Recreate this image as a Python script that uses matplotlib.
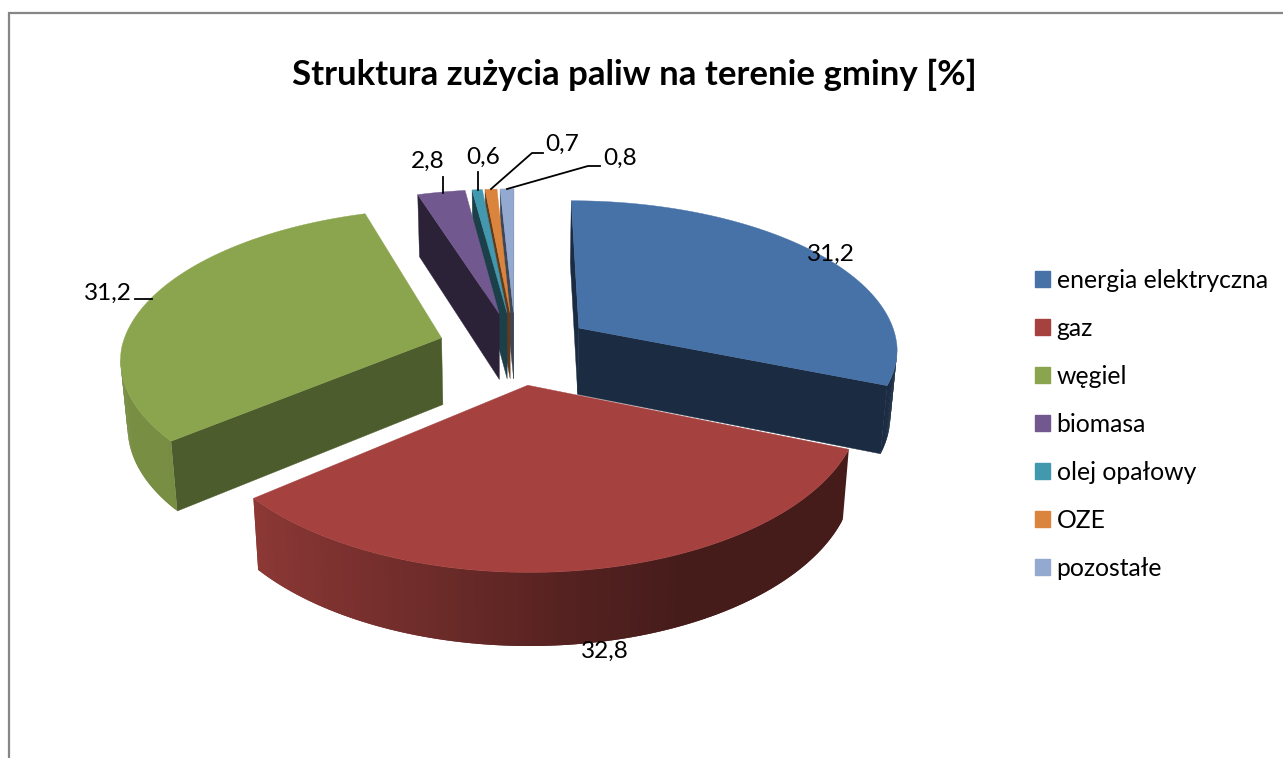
import numpy as np
import matplotlib
matplotlib.use("Agg")
import matplotlib.pyplot as plt
from matplotlib.patches import Polygon, Patch

title = "Struktura zużycia paliw na terenie gminy [%]"
categories = ["energia elektryczna", "gaz", "węgiel", "biomasa", "olej opałowy", "OZE", "pozostałe"]
values = [31.2, 32.8, 31.2, 2.8, 0.6, 0.7, 0.8]
value_labels = ["31,2", "32,8", "31,2", "2,8", "0,6", "0,7", "0,8"]
colors = ["#4672A8", "#A5423F", "#8AA54E", "#71588F", "#4198AF", "#DB843D", "#93A9CF"]
wall_dim = [0.39, 0.42, 0.56, 0.39, 0.42, 0.45, 0.42]

# Pie projection parameters (pixels)
CX, CY = 515.5, 348.0
RX, RY = 320.0, 150.0
PERSP = 0.138
EXPLODE = 0.243
HEIGHT = 67.0
BOTTOM_SHRINK = 0.982

plt.rcParams["font.family"] = ["Lato", "DejaVu Sans"]
fig = plt.figure(figsize=(12.83, 7.58), dpi=100, facecolor="white")
ax = fig.add_axes([0, 0, 1, 1])
ax.set_xlim(0, 1283)
ax.set_ylim(758, 0)
ax.axis("off")


def project(X, Y, down=False):
    s = 1.0 / (1.0 - PERSP * Y)
    sx = np.where(s < 1, s, s ** 0.88)
    x = CX + X * RX * sx
    y = CY + Y * RY * s
    if down:
        x = CX + (x - CX) * BOTTOM_SHRINK
        y = y + HEIGHT * np.sqrt(s)
    return x, y


def shade(t, dim):
    """Wall brightness as a function of the clock angle of the rim."""
    return np.interp(t, [0, 155, 172, 195, 212, 232, 360], [dim, dim, 0.50, 0.66, 0.76, 0.86, 0.86])


def mix(col, f):
    rgb = np.array(matplotlib.colors.to_rgb(col))
    return tuple(np.clip(rgb * f, 0, 1))


total = sum(values)
edges = np.cumsum([0] + values) / total * 360.0
# painter's order: back slivers (right to left), blue, green, then the front slice
order = [6, 5, 4, 3, 0, 2, 1]

for z, i in enumerate(order):
    t0, t1 = edges[i], edges[i + 1]
    mid = np.radians((t0 + t1) / 2)
    ox, oy = EXPLODE * np.sin(mid), -EXPLODE * np.cos(mid)
    ts = np.linspace(t0, t1, max(int((t1 - t0) * 1.5), 6))
    rx = ox + np.sin(np.radians(ts))
    ry = oy - np.cos(np.radians(ts))
    base = 10 + z * 5
    apex = tuple(float(v) for v in project(ox, oy))
    apex_d = tuple(float(v) for v in project(ox, oy, True))
    rim = np.array(project(rx, ry)).T
    rim_d = np.array(project(rx, ry, True)).T
    wc = mix(colors[i], wall_dim[i])

    # radial walls (only those that face the viewer)
    if rim[0, 0] < apex[0]:
        ax.add_patch(Polygon([apex, rim[0], rim_d[0], apex_d], fc=wc, ec=wc, lw=0.3, zorder=base))
    if apex[0] < rim[-1, 0]:
        ax.add_patch(Polygon([rim[-1], apex, apex_d, rim_d[-1]], fc=wc, ec=wc, lw=0.3, zorder=base + 1))
    # outer curved wall: overlapping strips so no seams appear
    for k in range(len(ts) - 1):
        k2 = min(k + 2, len(ts) - 1)
        if rim[k + 1, 0] < rim[k, 0]:
            c = mix(colors[i], shade((ts[k] + ts[k + 1]) / 2, wall_dim[i]))
            ax.add_patch(Polygon([rim[k], rim[k2], rim_d[k2], rim_d[k]], fc=c, ec="none", lw=0,
                                 zorder=base + 2))
    # top face
    ax.add_patch(Polygon(np.vstack([[apex], rim]), fc=colors[i], ec=colors[i], lw=0.3, zorder=base + 3))

# Frame
frame = "#868686"
ax.plot([8.5, 8.5, 1283], [758, 12.5, 12.5], color=frame, lw=1.6, zorder=1, solid_joinstyle="miter")

ax.text(634.5, 75, title, ha="center", va="center", fontsize=25, fontweight="bold", color="black", zorder=60)

# Data labels and leader lines
label_xy = [(831, 254), (605, 651), (108, 293), (428, 161), (483, 157), (562, 144), (620, 158)]
leaders = [None, None,
           [(135, 299), (152, 299)],
           [(443, 177), (443, 193)],
           [(478, 172), (478, 190)],
           [(543, 153), (532, 153), (491, 189)],
           [(600, 166), (588, 166), (507, 189)]]
for lab, (x, y), seg in zip(value_labels, label_xy, leaders):
    ax.text(x, y, lab, ha="center", va="center", fontsize=17.6, color="black", zorder=61)
    if seg:
        sx, sy = zip(*seg)
        ax.plot(sx, sy, color="black", lw=1.3, zorder=60)

handles = [Patch(fc=c, ec=c) for c in colors]
ax.legend(handles, categories, loc="upper left", bbox_to_anchor=(1030, 264), bbox_transform=ax.transData,
          frameon=False, fontsize=17.8, handlelength=0.6, handleheight=0.6, handletextpad=0.28,
          labelspacing=1.01, borderpad=0.2, borderaxespad=0)

fig.savefig("out.png", dpi=100, facecolor="white")
